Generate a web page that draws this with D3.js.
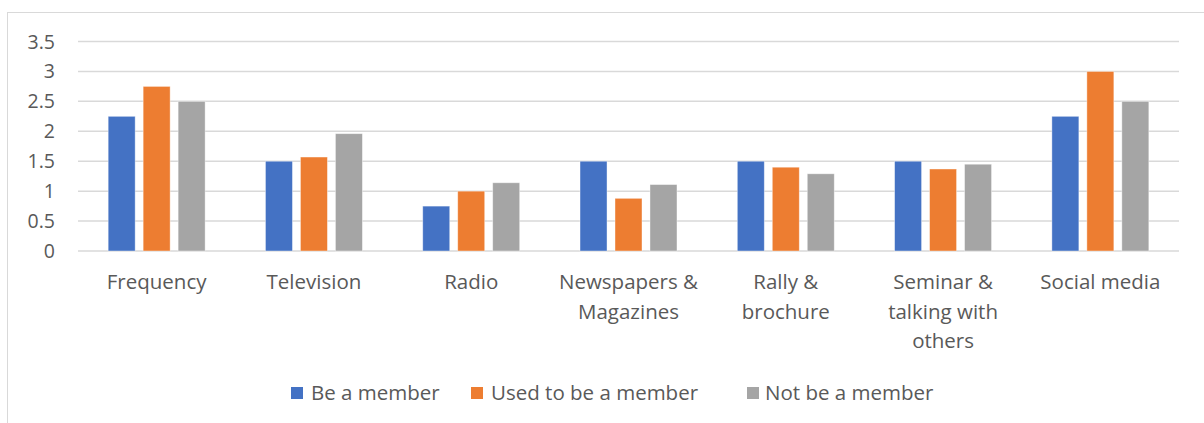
<!DOCTYPE html>
<html>
<head>
<meta charset="utf-8">
<script src="https://cdn.jsdelivr.net/npm/d3@7"></script>
<style>
  html, body { margin: 0; padding: 0; background: #fff; }
  svg { display: block; font-family: "Open Sans", sans-serif; }
</style>
</head>
<body>
<svg id="chart" width="1204" height="423"></svg>
<script>
// Media source ratings by membership status
const categories = [
  ["Frequency"],
  ["Television"],
  ["Radio"],
  ["Newspapers &", "Magazines"],
  ["Rally &", "brochure"],
  ["Seminar &", "talking with", "others"],
  ["Social media"]
];
const seriesNames = ["Be a member", "Used to be a member", "Not be a member"];
const beMember     = [2.25, 1.5, 0.75, 1.5, 1.5, 1.5, 2.25];
const usedToBe     = [2.75, 1.57, 1.0, 0.88, 1.4, 1.37, 3.0];
const notMember    = [2.5, 1.96, 1.14, 1.11, 1.29, 1.45, 2.5];
const yTicks = [0, 0.5, 1, 1.5, 2, 2.5, 3, 3.5];
const colors = ["#4472C4", "#ED7D31", "#A5A5A5"];

const series = [beMember, usedToBe, notMember];
const svg = d3.select("#chart");
const W = 1204, H = 423;
const plot = { left: 78, right: 1179, top: 41.5, bottom: 251 };
const textColor = "#595959";
const labelSize = 20.5;

// Outer chart frame
svg.append("rect")
  .attr("x", 7.5).attr("y", 12.5)
  .attr("width", W).attr("height", H)
  .attr("fill", "none").attr("stroke", "#d9d9d9").attr("stroke-width", 1);

const x = d3.scaleBand()
  .domain(d3.range(categories.length))
  .range([plot.left, plot.right])
  .paddingInner(0).paddingOuter(0);

const y = d3.scaleLinear().domain([0, 3.5]).range([plot.bottom, plot.top]);

// Horizontal gridlines
svg.append("g").selectAll("line").data(yTicks).join("line")
  .attr("x1", plot.left).attr("x2", plot.right)
  .attr("y1", d => y(d)).attr("y2", d => y(d))
  .attr("stroke", "#d9d9d9").attr("stroke-width", 1.5);

// Y tick labels
svg.append("g").selectAll("text").data(yTicks).join("text")
  .attr("x", 55).attr("y", d => y(d))
  .attr("dy", "0.36em")
  .attr("text-anchor", "end")
  .attr("fill", textColor).attr("font-size", 19.5)
  .text(d => d);

// Bars: three per category
const bw = x.bandwidth();
const barW = bw * 0.1716;
const gap = bw * 0.0508;
const sub = d3.scaleBand().domain(d3.range(series.length))
  .range([0, barW * 3 + gap * 2]).paddingInner(gap / (barW + gap)).paddingOuter(0);
const groupW = barW * 3 + gap * 2;

series.forEach((vals, si) => {
  svg.append("g").selectAll("rect").data(vals).join("rect")
    .attr("x", (d, i) => x(i) + (bw - groupW) / 2 + sub(si))
    .attr("y", d => y(d))
    .attr("width", sub.bandwidth())
    .attr("height", d => y(0) - y(d))
    .attr("fill", colors[si])
    .attr("stroke", "#ffffff").attr("stroke-opacity", 0.5).attr("stroke-width", 0.8);
});

// Category labels (wrapped)
const catG = svg.append("g");
categories.forEach((lines, i) => {
  const t = catG.append("text")
    .attr("x", x(i) + bw / 2)
    .attr("y", 289)
    .attr("text-anchor", "middle")
    .attr("fill", textColor).attr("font-size", labelSize);
  lines.forEach((ln, k) => {
    t.append("tspan").attr("x", x(i) + bw / 2).attr("dy", k === 0 ? 0 : 29.5).text(ln);
  });
});

// Legend
const legendItems = [
  { sx: 291, tx: 311 },
  { sx: 471, tx: 491 },
  { sx: 747, tx: 765 }
];
const leg = svg.append("g");
seriesNames.forEach((name, i) => {
  leg.append("rect")
    .attr("x", legendItems[i].sx).attr("y", 387)
    .attr("width", 12).attr("height", 12)
    .attr("fill", colors[i]);
  leg.append("text")
    .attr("x", legendItems[i].tx).attr("y", 393)
    .attr("dy", "0.36em")
    .attr("fill", textColor).attr("font-size", labelSize)
    .text(name);
});
</script>
</body>
</html>
